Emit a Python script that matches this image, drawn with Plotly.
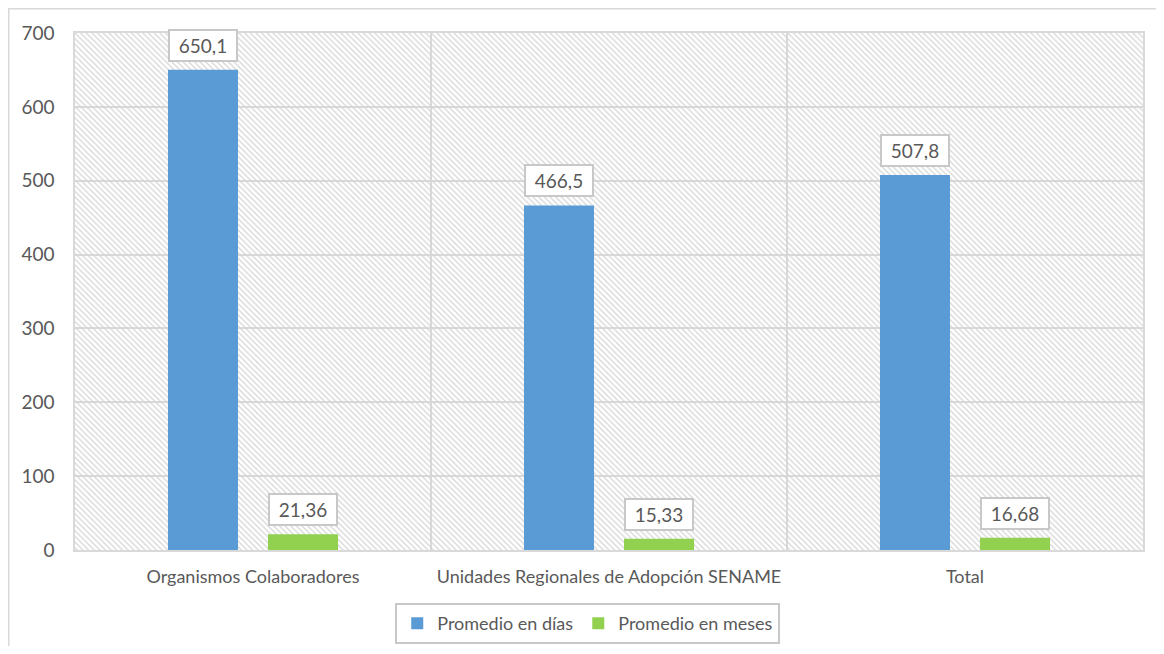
import plotly.graph_objects as go

categories = ["Organismos Colaboradores", "Unidades Regionales de Adopción SENAME", "Total"]
dias = [650.1, 466.5, 507.8]
meses = [21.36, 15.33, 16.68]
dias_labels = ["650,1", "466,5", "507,8"]
meses_labels = ["21,36", "15,33", "16,68"]
y_ticks = [0, 100, 200, 300, 400, 500, 600, 700]

BLUE = "#5B9BD5"
GREEN = "#92D050"
GRID = "#d9d9d9"
TXT = "#595959"
FONT = "Lato"

# page has 8px body margin; figure origin is at (8,8)
W, H = 1148, 638
L, T = 67, 25
R = W - (1143 - 8)
B = H - (550 - 8)

fig = go.Figure()

# hatched plot background (main hidden axes, drawn below overlay)
fig.add_trace(go.Scatter(
    x=[0, 1, 1, 0, 0], y=[0, 0, 1, 1, 0], xaxis="x", yaxis="y",
    fill="toself", mode="lines", line=dict(width=0, color="rgba(0,0,0,0)"),
    fillcolor="rgba(0,0,0,0)",
    fillpattern=dict(shape="\\", fgcolor="#d4d4d4", bgcolor="rgba(255,255,255,0)",
                     size=4, solidity=0.3, fgopacity=1),
    showlegend=False, hoverinfo="skip"))

fig.add_trace(go.Bar(x=categories, y=dias, name="Promedio en días",
                     marker=dict(color=BLUE, line=dict(width=0)),
                     xaxis="x2", yaxis="y2"))
fig.add_trace(go.Bar(x=categories, y=meses, name="Promedio en meses",
                     marker=dict(color=GREEN, line=dict(width=0)),
                     xaxis="x2", yaxis="y2"))

annotations = []
for vals, labs, shift in ((dias, dias_labels, -50), (meses, meses_labels, 50)):
    for c, v, t in zip(categories, vals, labs):
        annotations.append(dict(x=c, y=v, xref="x2", yref="y2", text=t, showarrow=False,
                                xshift=shift, yshift=8, yanchor="bottom",
                                font=dict(family=FONT, size=19, color=TXT),
                                bgcolor="white", bordercolor="#c8c8c8", borderwidth=2,
                                borderpad=5, width=56, height=19))

shapes = [
    dict(type="line", xref="paper", yref="paper",
         x0=-L / (W - L - R) + 0.0005, x1=-L / (W - L - R) + 0.0005,
         y0=1 + T / (H - T - B), y1=-B / (H - T - B),
         line=dict(color=GRID, width=2)),
    dict(type="line", xref="paper", yref="paper",
         x0=-L / (W - L - R), x1=1 + R / (W - L - R),
         y0=1 + T / (H - T - B) - 0.001, y1=1 + T / (H - T - B) - 0.001,
         line=dict(color=GRID, width=2)),
]

fig.update_layout(
    width=W, height=H,
    margin=dict(l=L, r=R, t=T, b=B),
    paper_bgcolor="white", plot_bgcolor="white",
    font=dict(family=FONT, color=TXT),
    barmode="group", bargap=0.438, bargroupgap=0.3,
    xaxis=dict(range=[0, 1], visible=False, fixedrange=True),
    yaxis=dict(range=[0, 1], visible=False, fixedrange=True),
    xaxis2=dict(overlaying="x", anchor="y2", type="category",
                showgrid=True, gridcolor=GRID, gridwidth=1.5, tickson="boundaries",
                ticks="", showline=True, linecolor=GRID, linewidth=2, mirror=True,
                tickfont=dict(family=FONT, size=18, color=TXT), ticklabelstandoff=9),
    yaxis2=dict(overlaying="y", anchor="x2", range=[0, 700], tickvals=y_ticks,
                showgrid=True, gridcolor=GRID, gridwidth=1.5, zeroline=False,
                showline=True, linecolor=GRID, linewidth=1.5, mirror=True, ticks="",
                tickfont=dict(family=FONT, size=19, color=TXT), ticklabelstandoff=15),
    legend=dict(orientation="h", xref="container", x=0.505, xanchor="center",
                yref="container", y=1 - (603 - 8) / H, yanchor="top",
                bordercolor="#c8c8c8", borderwidth=2,
                font=dict(family=FONT, size=18, color=TXT), itemwidth=30),
    annotations=annotations,
    shapes=shapes,
)

fig.write_html("out.html")
